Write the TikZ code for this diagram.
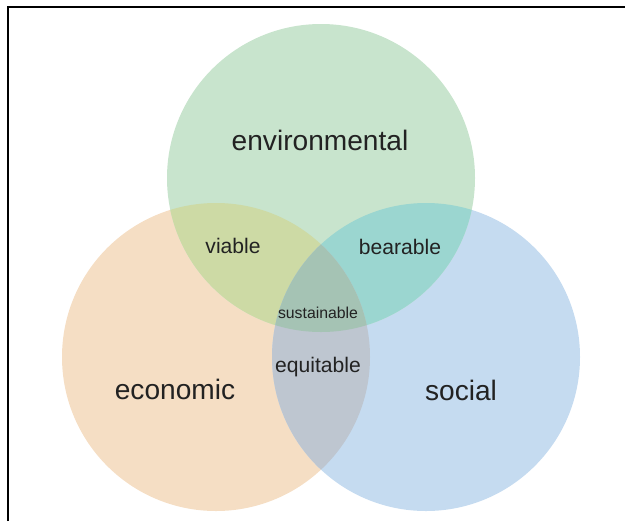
\documentclass[tikz,border=0pt]{standalone}
\usepackage{fontspec}
\setmainfont{Liberation Sans}

\definecolor{envcol}{RGB}{200,228,205}
\definecolor{ecocol}{RGB}{245,222,196}
\definecolor{soccol}{RGB}{197,219,240}
\definecolor{viacol}{RGB}{205,218,165}
\definecolor{bearcol}{RGB}{155,214,208}
\definecolor{equcol}{RGB}{190,198,208}
\definecolor{suscol}{RGB}{165,195,180}
\definecolor{txtcol}{RGB}{34,34,34}

\tikzset{
  big/.style={text=txtcol, font=\fontsize{16}{18}\selectfont},
  mid/.style={text=txtcol, font=\fontsize{12}{14}\selectfont},
  tiny/.style={text=txtcol, font=\fontsize{9}{11}\selectfont},
}

\begin{document}
\begin{tikzpicture}[x=0.02cm, y=-0.02cm]
    \useasboundingbox (0, 0) rectangle (625, 521);

    \coordinate (E) at (321, 178);
    \coordinate (C) at (216, 357);
    \coordinate (S) at (426, 357);
    \def\r{154}

    % the three circles
    \fill[ecocol] (C) circle (\r);
    \fill[soccol] (S) circle (\r);
    \fill[envcol] (E) circle (\r);

    % pairwise overlaps
    \begin{scope}
      \clip (E) circle (\r);
      \fill[viacol] (C) circle (\r);
      \fill[bearcol] (S) circle (\r);
    \end{scope}
    \begin{scope}
      \clip (C) circle (\r);
      \fill[equcol] (S) circle (\r);
    \end{scope}

    % middle part
    \begin{scope}
      \clip (E) circle (\r);
      \clip (C) circle (\r);
      \fill[suscol] (S) circle (\r);
    \end{scope}

    % frame
    \draw[line width=1.6pt] (8, 521) -- (8, 7) -- (625, 7);

    \node[big] (env) at (320, 140) {environmental};
    \node[big] (eco) at (175, 389) {economic};
    \node[big] (soc) at (461, 390) {social};
    \node[mid] (via) at (233, 246) {viable};
    \node[mid] (bear) at (400, 247) {bearable};
    \node[mid] (equ) at (318, 367) {equitable};
    \node[tiny] (sus) at (318, 313) {sustainable};
  \end{tikzpicture}
\end{document}
